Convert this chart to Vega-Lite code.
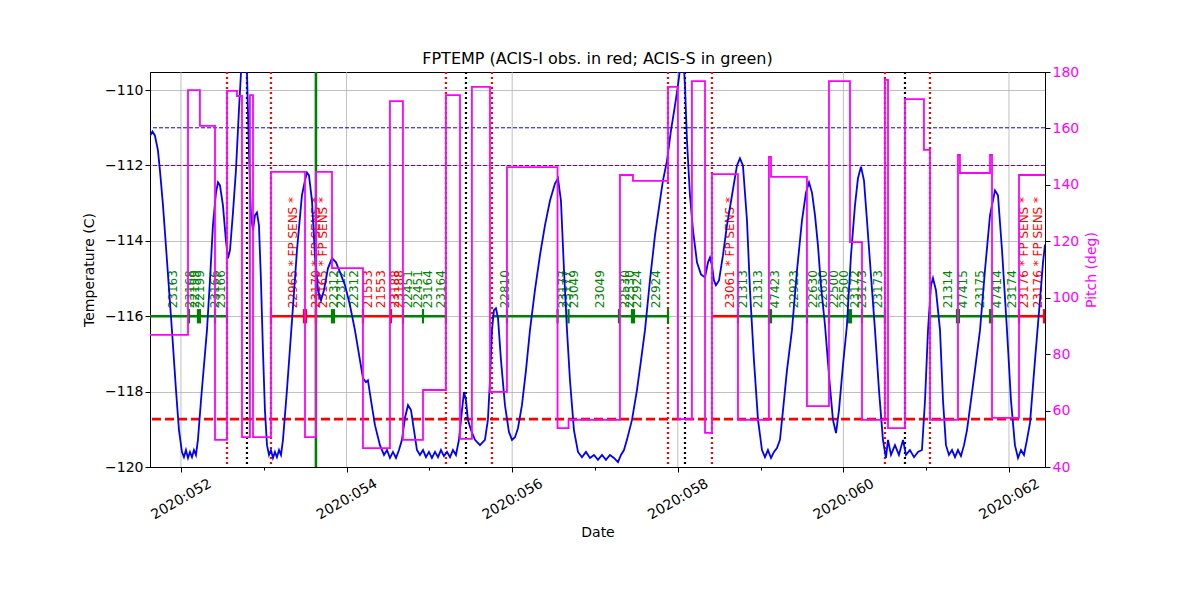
{
"$schema": "https://vega.github.io/schema/vega-lite/v6.json",
"width": 895, "height": 395,
"autosize": {"type": "none"},
"padding": {"left": 150, "top": 72, "right": 155, "bottom": 133},
"background": "white",
"title": {"text": "FPTEMP (ACIS-I obs. in red; ACIS-S in green)", "fontSize": 16, "fontWeight": "normal", "font": "DejaVu Sans", "offset": -2, "anchor": "middle", "color": "black"},
"config": {
  "font": "DejaVu Sans",
  "view": {"stroke": "black", "strokeWidth": 1},
  "axis": {"domainColor": "black", "tickColor": "black", "labelFontSize": 14, "titleFontSize": 14, "titleFontWeight": "normal", "labelFont": "DejaVu Sans", "titleFont": "DejaVu Sans", "labelColor": "black", "titleColor": "black", "gridColor": "#b0b0b0", "gridWidth": 0.8, "tickSize": 5}
},
"datasets": {
  "temp": [
    {"d":51.626,"t":-111.21},{"d":51.656,"t":-111.10},{"d":51.686,"t":-111.21},{"d":51.722,"t":-111.60},{"d":51.746,"t":-112.13},{"d":51.783,"t":-113.06},{"d":51.831,"t":-114.52},{"d":51.891,"t":-116.37},{"d":51.940,"t":-117.96},{"d":51.976,"t":-119.02},{"d":52.012,"t":-119.60},{"d":52.036,"t":-119.74},{"d":52.060,"t":-119.55},{"d":52.085,"t":-119.76},{"d":52.109,"t":-119.60},{"d":52.133,"t":-119.74},{"d":52.157,"t":-119.55},{"d":52.181,"t":-119.68},{"d":52.205,"t":-119.28},{"d":52.242,"t":-118.23},{"d":52.278,"t":-117.30},{"d":52.314,"t":-116.37},{"d":52.350,"t":-115.05},{"d":52.386,"t":-113.59},{"d":52.423,"t":-112.72},{"d":52.447,"t":-112.45},{"d":52.471,"t":-112.53},{"d":52.507,"t":-113.06},{"d":52.543,"t":-113.99},{"d":52.568,"t":-114.46},{"d":52.592,"t":-114.25},{"d":52.628,"t":-113.25},{"d":52.664,"t":-112.13},{"d":52.700,"t":-110.54},{"d":52.725,"t":-109.54},{"d":52.749,"t":-108.69},{"d":52.773,"t":-109.22},{"d":52.797,"t":-109.54},{"d":52.821,"t":-111.60},{"d":52.845,"t":-113.32},{"d":52.870,"t":-113.72},{"d":52.894,"t":-113.32},{"d":52.918,"t":-113.25},{"d":52.942,"t":-113.59},{"d":52.966,"t":-115.05},{"d":52.990,"t":-116.90},{"d":53.014,"t":-118.49},{"d":53.039,"t":-119.42},{"d":53.063,"t":-119.68},{"d":53.087,"t":-119.55},{"d":53.111,"t":-119.76},{"d":53.135,"t":-119.60},{"d":53.159,"t":-119.74},{"d":53.184,"t":-119.55},{"d":53.208,"t":-119.68},{"d":53.232,"t":-119.28},{"d":53.280,"t":-117.96},{"d":53.341,"t":-116.11},{"d":53.401,"t":-114.25},{"d":53.461,"t":-112.79},{"d":53.498,"t":-112.40},{"d":53.522,"t":-112.19},{"d":53.546,"t":-112.26},{"d":53.582,"t":-112.93},{"d":53.618,"t":-114.38},{"d":53.655,"t":-115.31},{"d":53.691,"t":-115.58},{"d":53.727,"t":-115.31},{"d":53.775,"t":-114.73},{"d":53.824,"t":-114.46},{"d":53.872,"t":-114.57},{"d":53.920,"t":-114.83},{"d":53.981,"t":-115.18},{"d":54.041,"t":-115.71},{"d":54.101,"t":-116.37},{"d":54.162,"t":-117.17},{"d":54.198,"t":-117.64},{"d":54.234,"t":-117.75},{"d":54.258,"t":-117.70},{"d":54.295,"t":-118.23},{"d":54.343,"t":-118.89},{"d":54.403,"t":-119.42},{"d":54.452,"t":-119.68},{"d":54.488,"t":-119.55},{"d":54.524,"t":-119.76},{"d":54.560,"t":-119.60},{"d":54.597,"t":-119.76},{"d":54.633,"t":-119.55},{"d":54.669,"t":-119.28},{"d":54.705,"t":-118.70},{"d":54.742,"t":-118.36},{"d":54.778,"t":-118.49},{"d":54.814,"t":-119.02},{"d":54.850,"t":-119.55},{"d":54.886,"t":-119.68},{"d":54.923,"t":-119.55},{"d":54.959,"t":-119.74},{"d":54.995,"t":-119.60},{"d":55.031,"t":-119.76},{"d":55.068,"t":-119.60},{"d":55.104,"t":-119.74},{"d":55.140,"t":-119.55},{"d":55.176,"t":-119.71},{"d":55.213,"t":-119.60},{"d":55.249,"t":-119.74},{"d":55.285,"t":-119.55},{"d":55.321,"t":-119.68},{"d":55.357,"t":-119.28},{"d":55.394,"t":-118.49},{"d":55.418,"t":-118.01},{"d":55.442,"t":-118.23},{"d":55.466,"t":-118.75},{"d":55.502,"t":-119.02},{"d":55.551,"t":-119.28},{"d":55.611,"t":-119.42},{"d":55.671,"t":-119.28},{"d":55.707,"t":-118.75},{"d":55.732,"t":-117.70},{"d":55.756,"t":-116.37},{"d":55.780,"t":-115.84},{"d":55.804,"t":-115.79},{"d":55.829,"t":-116.05},{"d":55.865,"t":-117.17},{"d":55.913,"t":-118.36},{"d":55.961,"t":-119.07},{"d":55.998,"t":-119.28},{"d":56.034,"t":-119.21},{"d":56.070,"t":-118.97},{"d":56.118,"t":-118.36},{"d":56.167,"t":-117.43},{"d":56.215,"t":-116.37},{"d":56.275,"t":-115.31},{"d":56.336,"t":-114.38},{"d":56.396,"t":-113.59},{"d":56.457,"t":-112.93},{"d":56.517,"t":-112.48},{"d":56.553,"t":-112.34},{"d":56.589,"t":-112.93},{"d":56.626,"t":-114.78},{"d":56.662,"t":-116.37},{"d":56.698,"t":-117.70},{"d":56.746,"t":-119.02},{"d":56.795,"t":-119.60},{"d":56.843,"t":-119.74},{"d":56.891,"t":-119.60},{"d":56.940,"t":-119.76},{"d":56.988,"t":-119.68},{"d":57.036,"t":-119.81},{"d":57.085,"t":-119.68},{"d":57.133,"t":-119.81},{"d":57.181,"t":-119.68},{"d":57.229,"t":-119.76},{"d":57.278,"t":-119.87},{"d":57.314,"t":-119.68},{"d":57.350,"t":-119.55},{"d":57.386,"t":-119.28},{"d":57.447,"t":-118.75},{"d":57.507,"t":-117.96},{"d":57.556,"t":-117.17},{"d":57.604,"t":-116.37},{"d":57.664,"t":-115.05},{"d":57.725,"t":-113.85},{"d":57.785,"t":-112.93},{"d":57.821,"t":-112.40},{"d":57.870,"t":-111.87},{"d":57.918,"t":-111.07},{"d":57.966,"t":-110.41},{"d":58.002,"t":-109.88},{"d":58.039,"t":-109.22},{"d":58.063,"t":-108.95},{"d":58.087,"t":-109.88},{"d":58.111,"t":-111.34},{"d":58.147,"t":-112.79},{"d":58.184,"t":-113.72},{"d":58.232,"t":-114.57},{"d":58.280,"t":-114.89},{"d":58.329,"t":-114.97},{"d":58.365,"t":-114.57},{"d":58.389,"t":-114.44},{"d":58.413,"t":-114.65},{"d":58.437,"t":-115.05},{"d":58.461,"t":-115.18},{"d":58.498,"t":-115.05},{"d":58.546,"t":-114.38},{"d":58.594,"t":-113.59},{"d":58.655,"t":-112.79},{"d":58.715,"t":-112.00},{"d":58.751,"t":-111.81},{"d":58.787,"t":-112.00},{"d":58.836,"t":-113.46},{"d":58.872,"t":-115.31},{"d":58.920,"t":-117.17},{"d":58.969,"t":-118.75},{"d":59.017,"t":-119.55},{"d":59.053,"t":-119.74},{"d":59.089,"t":-119.55},{"d":59.126,"t":-119.76},{"d":59.162,"t":-119.60},{"d":59.198,"t":-119.50},{"d":59.234,"t":-119.28},{"d":59.271,"t":-118.49},{"d":59.319,"t":-117.43},{"d":59.379,"t":-116.37},{"d":59.440,"t":-114.78},{"d":59.500,"t":-113.46},{"d":59.548,"t":-112.72},{"d":59.585,"t":-112.45},{"d":59.621,"t":-112.72},{"d":59.657,"t":-113.32},{"d":59.693,"t":-114.12},{"d":59.729,"t":-115.18},{"d":59.778,"t":-116.24},{"d":59.826,"t":-117.56},{"d":59.874,"t":-118.75},{"d":59.911,"t":-119.10},{"d":59.947,"t":-118.49},{"d":59.995,"t":-117.30},{"d":60.043,"t":-116.24},{"d":60.092,"t":-114.38},{"d":60.140,"t":-113.06},{"d":60.176,"t":-112.34},{"d":60.213,"t":-112.03},{"d":60.249,"t":-112.40},{"d":60.285,"t":-113.46},{"d":60.333,"t":-114.91},{"d":60.382,"t":-116.37},{"d":60.430,"t":-117.96},{"d":60.478,"t":-119.28},{"d":60.514,"t":-119.76},{"d":60.539,"t":-119.28},{"d":60.575,"t":-119.68},{"d":60.623,"t":-119.42},{"d":60.671,"t":-119.68},{"d":60.720,"t":-119.28},{"d":60.756,"t":-119.68},{"d":60.804,"t":-119.55},{"d":60.853,"t":-119.74},{"d":60.901,"t":-119.60},{"d":60.949,"t":-119.55},{"d":60.986,"t":-118.23},{"d":61.022,"t":-116.37},{"d":61.058,"t":-115.18},{"d":61.082,"t":-114.99},{"d":61.118,"t":-115.31},{"d":61.167,"t":-116.37},{"d":61.203,"t":-118.23},{"d":61.239,"t":-119.42},{"d":61.275,"t":-119.68},{"d":61.312,"t":-119.55},{"d":61.348,"t":-119.74},{"d":61.384,"t":-119.55},{"d":61.420,"t":-119.71},{"d":61.457,"t":-119.42},{"d":61.493,"t":-119.02},{"d":61.541,"t":-118.23},{"d":61.589,"t":-117.43},{"d":61.650,"t":-116.37},{"d":61.710,"t":-114.78},{"d":61.771,"t":-113.32},{"d":61.831,"t":-112.66},{"d":61.867,"t":-112.79},{"d":61.916,"t":-114.25},{"d":61.976,"t":-116.37},{"d":62.024,"t":-118.23},{"d":62.072,"t":-119.42},{"d":62.109,"t":-119.76},{"d":62.145,"t":-119.55},{"d":62.181,"t":-119.68},{"d":62.217,"t":-119.28},{"d":62.254,"t":-118.83},{"d":62.314,"t":-117.17},{"d":62.374,"t":-115.58},{"d":62.411,"t":-114.57},{"d":62.435,"t":-114.10}
  ],
  "pitch": [
    {"d":51.626,"p":86.8},{"d":52.085,"p":173.6},{"d":52.229,"p":160.9},{"d":52.411,"p":49.6},{"d":52.556,"p":173.3},{"d":52.676,"p":171.5},{"d":52.737,"p":50.6},{"d":52.833,"p":171.8},{"d":52.870,"p":50.6},{"d":53.087,"p":144.6},{"d":53.498,"p":50.6},{"d":53.630,"p":144.6},{"d":53.824,"p":110.5},{"d":54.198,"p":46.7},{"d":54.524,"p":169.7},{"d":54.681,"p":49.6},{"d":54.923,"p":67.3},{"d":55.200,"p":171.8},{"d":55.370,"p":50.0},{"d":55.514,"p":174.7},{"d":55.732,"p":66.6},{"d":55.937,"p":146.3},{"d":56.548,"p":53.8},{"d":56.681,"p":56.7},{"d":57.302,"p":143.5},{"d":57.459,"p":141.4},{"d":57.882,"p":174.7},{"d":58.002,"p":57.0},{"d":58.171,"p":176.8},{"d":58.329,"p":52.1},{"d":58.413,"p":143.8},{"d":58.727,"p":56.7},{"d":59.101,"p":149.9},{"d":59.126,"p":142.8},{"d":59.560,"p":61.6},{"d":59.826,"p":176.8},{"d":60.080,"p":119.7},{"d":60.225,"p":56.7},{"d":60.502,"p":177.2},{"d":60.539,"p":53.8},{"d":60.744,"p":170.4},{"d":60.973,"p":152.4},{"d":61.046,"p":56.7},{"d":61.384,"p":150.6},{"d":61.408,"p":144.2},{"d":61.771,"p":150.6},{"d":61.795,"p":57.4},{"d":62.121,"p":143.5},{"d":62.435,"p":143.5}
  ],
  "hl": [
    {"t":-111,"k":"blue"},{"t":-112,"k":"purple"},{"t":-118.73,"k":"red"}
  ],
  "xgrid": [{"d":52},{"d":54},{"d":56},{"d":58},{"d":60},{"d":62}],
  "vl": [
    {"d":52.556,"k":"reddot"},{"d":53.087,"k":"reddot"},{"d":55.200,"k":"reddot"},{"d":55.756,"k":"reddot"},{"d":57.882,"k":"reddot"},{"d":58.413,"k":"reddot"},{"d":60.502,"k":"reddot"},{"d":61.046,"k":"reddot"},
    {"d":52.797,"k":"blackdot"},{"d":55.442,"k":"blackdot"},{"d":58.087,"k":"blackdot"},{"d":60.744,"k":"blackdot"},
    {"d":53.630,"k":"green"}
  ],
  "segs": [
    {"d":51.626,"d2":52.556,"inst":"S"},{"d":53.087,"d2":53.630,"inst":"I"},{"d":53.630,"d2":54.198,"inst":"S"},{"d":54.198,"d2":54.681,"inst":"I"},{"d":54.681,"d2":55.200,"inst":"S"},{"d":55.756,"d2":57.882,"inst":"S"},{"d":58.413,"d2":58.727,"inst":"I"},{"d":58.727,"d2":60.502,"inst":"S"},{"d":61.046,"d2":62.121,"inst":"S"},{"d":62.121,"d2":62.435,"inst":"I"}
  ],
  "ticks": [
    {"d":52.097,"inst":"S"},{"d":52.205,"inst":"S"},{"d":52.229,"inst":"S"},{"d":52.411,"inst":"S"},{"d":52.556,"inst":"S"},
    {"d":53.087,"inst":"I"},{"d":53.486,"inst":"I"},{"d":53.510,"inst":"I"},{"d":53.630,"inst":"I"},
    {"d":53.824,"inst":"S"},{"d":53.848,"inst":"S"},{"d":54.198,"inst":"I"},{"d":54.536,"inst":"I"},
    {"d":54.681,"inst":"S"},{"d":54.923,"inst":"S"},{"d":55.200,"inst":"S"},{"d":55.937,"inst":"S"},{"d":56.548,"inst":"S"},{"d":56.681,"inst":"S"},{"d":57.290,"inst":"S"},{"d":57.447,"inst":"S"},{"d":57.471,"inst":"S"},{"d":57.882,"inst":"S"},
    {"d":58.727,"inst":"S"},{"d":59.101,"inst":"S"},{"d":59.126,"inst":"S"},{"d":59.560,"inst":"S"},{"d":59.826,"inst":"S"},{"d":60.068,"inst":"S"},{"d":60.092,"inst":"S"},{"d":60.225,"inst":"S"},{"d":60.502,"inst":"S"},
    {"d":61.372,"inst":"S"},{"d":61.396,"inst":"S"},{"d":61.771,"inst":"S"},{"d":61.795,"inst":"S"},{"d":62.121,"inst":"I"},{"d":62.423,"inst":"I"}
  ],
  "labels": [
    {"d":51.903,"obs":"23163","inst":"S"},{"d":52.109,"obs":"23168","inst":"S"},{"d":52.169,"obs":"22199","inst":"S"},{"d":52.229,"obs":"22199","inst":"S"},{"d":52.411,"obs":"23166","inst":"S"},{"d":52.483,"obs":"23166","inst":"S"},
    {"d":53.353,"obs":"22965 * FP SENS *","inst":"I"},{"d":53.630,"obs":"23170 * FP SENS *","inst":"I"},{"d":53.715,"obs":"23165 * FP SENS *","inst":"I"},
    {"d":53.848,"obs":"22312","inst":"S"},{"d":53.932,"obs":"22312","inst":"S"},{"d":54.089,"obs":"22312","inst":"S"},
    {"d":54.258,"obs":"21553","inst":"I"},{"d":54.415,"obs":"21553","inst":"I"},{"d":54.585,"obs":"23188","inst":"I"},{"d":54.633,"obs":"23188","inst":"I"},
    {"d":54.742,"obs":"22451","inst":"S"},{"d":54.862,"obs":"22451","inst":"S"},{"d":54.983,"obs":"23164","inst":"S"},{"d":55.140,"obs":"23164","inst":"S"},
    {"d":55.913,"obs":"22810","inst":"S"},{"d":56.609,"obs":"23177","inst":"S"},{"d":56.657,"obs":"23177","inst":"S"},{"d":56.742,"obs":"23049","inst":"S"},{"d":57.060,"obs":"23049","inst":"S"},
    {"d":57.362,"obs":"22530","inst":"S"},{"d":57.423,"obs":"22530","inst":"S"},{"d":57.507,"obs":"22924","inst":"S"},{"d":57.737,"obs":"22924","inst":"S"},
    {"d":58.630,"obs":"23061 * FP SENS *","inst":"I"},
    {"d":58.787,"obs":"21313","inst":"S"},{"d":58.969,"obs":"21313","inst":"S"},{"d":59.174,"obs":"47423","inst":"S"},{"d":59.403,"obs":"22923","inst":"S"},{"d":59.633,"obs":"22630","inst":"S"},{"d":59.754,"obs":"22630","inst":"S"},{"d":59.886,"obs":"22500","inst":"S"},{"d":60.012,"obs":"22500","inst":"S"},{"d":60.140,"obs":"23172","inst":"S"},{"d":60.225,"obs":"23173","inst":"S"},{"d":60.418,"obs":"23173","inst":"S"},
    {"d":61.263,"obs":"21314","inst":"S"},{"d":61.444,"obs":"47415","inst":"S"},{"d":61.650,"obs":"23175","inst":"S"},{"d":61.855,"obs":"47414","inst":"S"},{"d":62.036,"obs":"23174","inst":"S"},
    {"d":62.181,"obs":"23176 * FP SENS *","inst":"I"},{"d":62.350,"obs":"23176 * FP SENS *","inst":"I"}
  ]
},
"layer": [
  {
    "layer": [
      {
        "data": {"name": "xgrid"},
        "mark": {"type": "rule", "color": "#b0b0b0", "strokeWidth": 0.8},
        "encoding": {"x": {"field": "d", "type": "quantitative"}}
      },
      {
        "data": {"name": "hl"},
        "transform": [{"filter": "datum.k == 'blue'"}],
        "mark": {"type": "rule", "color": "#0000ff", "strokeWidth": 1, "strokeDash": [4, 2]},
        "encoding": {"y": {"field": "t", "type": "quantitative"}}
      },
      {
        "data": {"name": "hl"},
        "transform": [{"filter": "datum.k == 'purple'"}],
        "mark": {"type": "rule", "color": "#800080", "strokeWidth": 1, "strokeDash": [4, 2]},
        "encoding": {"y": {"field": "t", "type": "quantitative"}}
      },
      {
        "data": {"name": "hl"},
        "transform": [{"filter": "datum.k == 'red'"}],
        "mark": {"type": "rule", "color": "#ff0000", "strokeWidth": 2.6, "strokeDash": [9, 4]},
        "encoding": {"y": {"field": "t", "type": "quantitative"}}
      },
      {
        "data": {"name": "vl"},
        "transform": [{"filter": "datum.k == 'reddot'"}],
        "mark": {"type": "rule", "color": "#ff0000", "strokeWidth": 2.2, "strokeDash": [2, 3]},
        "encoding": {"x": {"field": "d", "type": "quantitative"}}
      },
      {
        "data": {"name": "vl"},
        "transform": [{"filter": "datum.k == 'blackdot'"}],
        "mark": {"type": "rule", "color": "#000000", "strokeWidth": 2.2, "strokeDash": [2, 3]},
        "encoding": {"x": {"field": "d", "type": "quantitative"}}
      },
      {
        "data": {"name": "vl"},
        "transform": [{"filter": "datum.k == 'green'"}],
        "mark": {"type": "rule", "color": "#008000", "strokeWidth": 2.6},
        "encoding": {"x": {"field": "d", "type": "quantitative"}}
      },
      {
        "data": {"name": "segs"},
        "mark": {"type": "rule", "strokeWidth": 2.6},
        "encoding": {
          "x": {"field": "d", "type": "quantitative"},
          "x2": {"field": "d2"},
          "y": {"datum": -116, "type": "quantitative"},
          "color": {"field": "inst", "type": "nominal", "scale": {"domain": ["I", "S"], "range": ["#ff0000", "#008000"]}, "legend": null}
        }
      },
      {
        "data": {"name": "ticks"},
        "mark": {"type": "rule", "strokeWidth": 2.2},
        "encoding": {
          "x": {"field": "d", "type": "quantitative"},
          "y": {"datum": -115.81, "type": "quantitative"},
          "y2": {"datum": -116.19},
          "color": {"field": "inst", "type": "nominal", "scale": {"domain": ["I", "S"], "range": ["#ff0000", "#008000"]}, "legend": null}
        }
      },
      {
        "data": {"name": "labels"},
        "mark": {"type": "text", "angle": 270, "align": "left", "baseline": "middle", "fontSize": 12, "font": "DejaVu Sans"},
        "encoding": {
          "x": {"field": "d", "type": "quantitative"},
          "y": {"datum": -115.79, "type": "quantitative"},
          "text": {"field": "obs"},
          "color": {"field": "inst", "type": "nominal", "scale": {"domain": ["I", "S"], "range": ["#ff0000", "#008000"]}, "legend": null}
        }
      },
      {
        "data": {"name": "temp"},
        "mark": {"type": "line", "color": "#0000ff", "strokeWidth": 1.8, "clip": true},
        "encoding": {
          "x": {"field": "d", "type": "quantitative", "scale": {"domain": [51.626, 62.435], "nice": false, "zero": false},
                "axis": {"values": [52,53,54,55,56,57,58,59,60,61,62], "title": "Date", "labelExpr": "datum.value % 2 == 0 ? '2020:0' + datum.value : ''", "labelAngle": -30, "labelAlign": "center", "labelBaseline": "middle", "labelPadding": 27, "labelOverlap": false, "labelFlush": false, "titlePadding": 4, "grid": false,
                         "tickSize": {"condition": {"test": "datum.value % 2 == 0", "value": 5}, "value": 3}}},
          "y": {"field": "t", "type": "quantitative", "scale": {"domain": [-120, -109.52], "nice": false, "zero": false},
                "axis": {"values": [-120, -118, -116, -114, -112, -110], "format": "d", "title": "Temperature (C)", "titlePadding": 8, "grid": true}}
        }
      }
    ]
  },
  {
    "data": {"name": "pitch"},
    "mark": {"type": "line", "interpolate": "step-after", "color": "#ff00ff", "strokeWidth": 1.8, "clip": true},
    "encoding": {
      "x": {"field": "d", "type": "quantitative"},
      "y": {"field": "p", "type": "quantitative", "scale": {"domain": [40, 180], "nice": false, "zero": false},
            "axis": {"orient": "right", "values": [40, 60, 80, 100, 120, 140, 160, 180], "format": "d", "title": "Pitch (deg)", "titleColor": "#ff00ff", "labelColor": "#ff00ff", "grid": false, "titlePadding": 6, "titleAngle": 270, "titleBaseline": "top"}}
    }
  }
],
"resolve": {"scale": {"y": "independent"}}
}
